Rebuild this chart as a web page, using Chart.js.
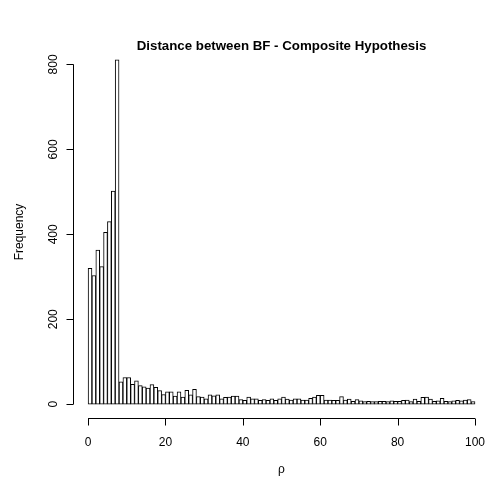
<!DOCTYPE html>
<html>
<head>
<meta charset="utf-8">
<script src="https://cdn.jsdelivr.net/npm/chart.js@4/dist/chart.umd.min.js"></script>
<style>
  body { margin: 0; background: #fff; }
  canvas { display: block; }
</style>
</head>
<body>
<canvas id="histChart" width="487" height="481"></canvas>
<script>
// bins of width 1 from 0 to 100, counts
const binStarts = Array.from({ length: 100 }, (_, i) => i);
const counts = [
    320, 303, 363, 324, 405, 430, 502, 811, 53, 63,
    63, 47, 55, 44, 41, 38, 46, 40, 32, 23,
    29, 29, 19, 29, 17, 33, 22, 35, 18, 17,
    13, 22, 20, 22, 13, 16, 17, 19, 19, 11,
    9, 17, 13, 13, 9, 11, 9, 13, 9, 13,
    17, 12, 10, 13, 13, 10, 10, 14, 17, 21,
    21, 10, 10, 9, 9, 18, 10, 12, 7, 11,
    8, 6, 7, 6, 6, 7, 7, 6, 8, 7,
    7, 9, 10, 6, 12, 7, 16, 17, 12, 7,
    8, 14, 7, 6, 8, 9, 8, 10, 11, 6
];
const xTicks = [0, 20, 40, 60, 80, 100];
const yTicks = [0, 200, 400, 600, 800];

const titleText = 'Distance between BF - Composite Hypothesis';
const xLabel = 'ρ';
const yLabel = 'Frequency';

// R-style axes, drawn with the chart's own scales
const rAxes = {
    id: 'rAxes',
    afterDraw(chart) {
        const ctx = chart.ctx;
        const xs = chart.scales.x;
        const ys = chart.scales.y;
        const area = chart.chartArea;
        ctx.save();
        ctx.strokeStyle = '#000';
        ctx.fillStyle = '#000';
        ctx.lineWidth = 1;

        // x axis
        const axY = Math.round(area.bottom) + 0.5;
        ctx.beginPath();
        ctx.moveTo(xs.getPixelForValue(xTicks[0]), axY);
        ctx.lineTo(xs.getPixelForValue(xTicks[xTicks.length - 1]), axY);
        xTicks.forEach(t => {
            const px = Math.round(xs.getPixelForValue(t)) + 0.5;
            ctx.moveTo(px, axY);
            ctx.lineTo(px, axY + 7);
        });
        ctx.stroke();
        ctx.font = '12px "Liberation Sans", Arial, sans-serif';
        ctx.textAlign = 'center';
        ctx.textBaseline = 'middle';
        xTicks.forEach(t => ctx.fillText(String(t), xs.getPixelForValue(t), axY + 24));

        // y axis
        const axX = Math.round(area.left) + 0.5;
        ctx.beginPath();
        ctx.moveTo(axX, ys.getPixelForValue(yTicks[0]));
        ctx.lineTo(axX, ys.getPixelForValue(yTicks[yTicks.length - 1]));
        yTicks.forEach(t => {
            const py = Math.round(ys.getPixelForValue(t)) + 0.5;
            ctx.moveTo(axX, py);
            ctx.lineTo(axX - 7, py);
        });
        ctx.stroke();
        yTicks.forEach(t => {
            ctx.save();
            ctx.translate(axX - 20, ys.getPixelForValue(t));
            ctx.rotate(-Math.PI / 2);
            ctx.fillText(String(t), 0, 0);
            ctx.restore();
        });

        // labels and title, centred on the plot region
        const cx = (area.left + 490) / 2;
        ctx.fillText(xLabel, cx, 470);
        ctx.save();
        ctx.translate(20, (area.top + area.bottom) / 2);
        ctx.rotate(-Math.PI / 2);
        ctx.fillText(yLabel, 0, 0);
        ctx.restore();
        ctx.font = 'bold 13.3px "Liberation Sans", Arial, sans-serif';
        ctx.fillText(titleText, cx, 46);
        ctx.restore();
    }
};

const ctx = document.getElementById('histChart').getContext('2d');
new Chart(ctx, {
    type: 'bar',
    data: {
        datasets: [{
            data: binStarts.map((b, i) => ({ x: b + 0.5, y: counts[i] })),
            backgroundColor: '#ffffff',
            borderColor: '#000000',
            borderWidth: 1,
            borderSkipped: false,
            barPercentage: 1,
            categoryPercentage: 1
        }]
    },
    options: {
        responsive: false,
        animation: false,
        layout: { padding: { left: 73, right: 0, top: 46, bottom: 63 } },
        plugins: {
            legend: { display: false },
            tooltip: { enabled: false }
        },
        scales: {
            x: {
                type: 'linear',
                offset: false,
                min: -3.9,
                max: 103.1,
                display: false
            },
            y: {
                type: 'linear',
                min: -32.4,
                max: 843.4,
                display: false
            }
        }
    },
    plugins: [rAxes]
});
</script>
</body>
</html>
